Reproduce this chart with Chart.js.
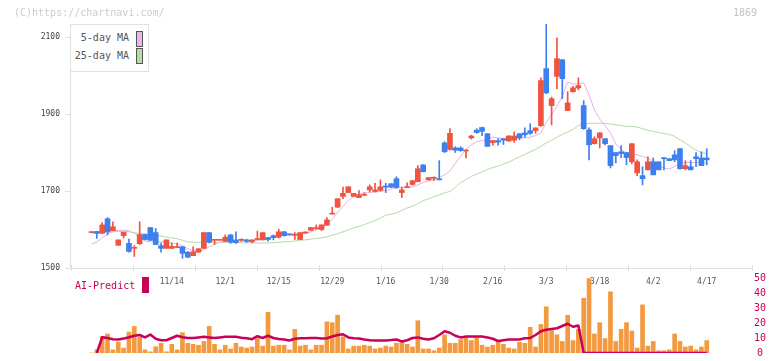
<!DOCTYPE html>
<html>
<head>
<meta charset="utf-8">
<script src="https://cdn.jsdelivr.net/npm/chart.js@4.4.0/dist/chart.umd.min.js"></script>
<style>
  body { margin: 0; background: #fff; }
  #wrap { position: relative; width: 772px; height: 361px; font-family: "DejaVu Sans Mono", monospace; }
  canvas { position: absolute; left: 0; top: 0; }
  .txt { position: absolute; white-space: pre; font-size: 10px; line-height: 12px; }
  .sw { position: absolute; width: 5px; height: 14px; border: 1px solid #555; }
</style>
</head>
<body>
<div id="wrap">
  <canvas id="priceChart" width="772" height="361"></canvas>
  <canvas id="volChart" width="772" height="361"></canvas>
  <div class="txt" style="left:14px; top:7px; color:#cccccc;">(C)https://chartnavi.com/</div>
  <div class="txt" style="left:733px; top:7px; color:#c4c4c4;">1869</div>
  <div style="position:absolute; left:70px; top:24px; width:77px; height:46px; border:1px solid #e0e0e0; background:#fff;"></div>
  <div class="txt" style="left:70px; width:59px; text-align:right; top:32px; color:#555;">5-day MA</div>
  <div class="txt" style="left:70px; width:59px; text-align:right; top:50px; color:#555;">25-day MA</div>
  <div class="sw" style="left:136px; top:31px; background:#e8b6ea;"></div>
  <div class="sw" style="left:136px; top:48px; background:#b6dcaa;"></div>
  <div class="txt" style="left:75px; top:280px; color:#c8005a;">AI-Predict</div>
  <div style="position:absolute; left:142px; top:277px; width:7px; height:16px; background:#c8005a;"></div>
</div>
<script>
// daily candles, oldest first (11/14 is index 15, then every 10 sessions)
const openP  = [1592,1595,1590,1628,1597,1559,1584,1564,1551,1563,1587,1605,1592,1558,1551,1551,1553,1555,1541,1532,
                1541,1551,1592,1572,1572,1569,1586,1573,1572,1573,1568,1574,1573,1579,1584,1580,1594,1588,1585,1574,
                1591,1598,1602,1600,1611,1640,1658,1686,1696,1686,1683,1689,1703,1699,1702,1713,1719,1732,1696,1709,
                1717,1724,1768,1729,1733,1731,1825,1808,1812,1812,1804,1838,1858,1865,1849,1826,1831,1836,1830,1832,
                1849,1851,1857,1857,1870,2018,1922,1998,2041,1909,1958,1968,1922,1859,1823,1838,1836,1818,1800,1802,
                1800,1776,1747,1740,1755,1776,1776,1786,1784,1794,1810,1758,1763,1789,1786,1786];
const highP  = [1594,1595,1618,1631,1620,1573,1593,1575,1558,1620,1588,1605,1603,1565,1573,1565,1565,1556,1543,1555,
                1551,1592,1592,1573,1573,1586,1587,1594,1576,1575,1573,1596,1592,1580,1586,1601,1595,1589,1592,1592,
                1594,1606,1612,1612,1631,1658,1680,1710,1711,1694,1701,1695,1716,1720,1729,1720,1719,1737,1710,1721,
                1727,1766,1768,1735,1737,1779,1828,1862,1815,1815,1808,1845,1862,1866,1849,1831,1836,1836,1844,1854,
                1849,1864,1875,1864,1994,2134,1944,2098,2042,1958,1972,1994,1935,1864,1841,1852,1836,1818,1800,1818,
                1800,1823,1781,1763,1789,1786,1776,1787,1784,1805,1810,1779,1779,1800,1802,1810];
const lowP   = [1592,1577,1590,1586,1597,1559,1578,1541,1530,1561,1573,1571,1561,1541,1551,1550,1553,1525,1527,1532,
                1541,1551,1565,1561,1572,1569,1564,1564,1569,1567,1566,1573,1573,1570,1573,1578,1583,1585,1574,1574,
                1590,1598,1601,1597,1611,1640,1657,1680,1696,1686,1683,1688,1697,1698,1700,1696,1709,1707,1683,1709,
                1715,1724,1750,1728,1727,1729,1800,1806,1800,1803,1786,1835,1850,1844,1816,1819,1819,1821,1829,1826,
                1833,1840,1847,1850,1868,1953,1872,1966,1940,1909,1957,1963,1860,1781,1822,1812,1820,1760,1773,1787,
                1768,1771,1740,1716,1755,1742,1755,1755,1779,1776,1757,1755,1755,1763,1766,1768];
const closeP = [1593,1590,1612,1594,1607,1573,1593,1543,1552,1587,1574,1572,1561,1551,1573,1556,1554,1538,1528,1542,
                1550,1592,1567,1573,1573,1580,1567,1566,1573,1569,1573,1575,1592,1574,1579,1594,1584,1586,1586,1592,
                1592,1605,1605,1612,1625,1641,1680,1694,1711,1694,1690,1690,1711,1703,1711,1710,1710,1709,1703,1710,
                1727,1758,1750,1735,1734,1729,1802,1850,1806,1805,1806,1843,1852,1855,1816,1831,1827,1832,1843,1843,
                1838,1846,1850,1864,1987,1955,1940,2044,1992,1929,1968,1974,1862,1820,1836,1851,1823,1766,1792,1797,
                1787,1823,1776,1732,1776,1742,1755,1784,1779,1781,1758,1766,1755,1784,1766,1781];
const ma5    = [1562,1568,1578,1588,1596,1598,1598,1597,1590,1580,1570,1568,1568,1568,1566,1565,1563,1558,1550,1545,
                1542,1548,1555,1562,1566,1568,1570,1570,1571,1571,1571,1572,1574,1576,1580,1584,1586,1587,1588,1589,
                1590,1594,1599,1606,1614,1626,1645,1660,1675,1686,1692,1696,1697,1697,1699,1702,1705,1708,1710,1710,
                1711,1716,1722,1726,1730,1734,1742,1752,1772,1790,1808,1820,1828,1831,1834,1840,1838,1836,1836,1837,
                1838,1838,1840,1844,1851,1878,1900,1920,1946,1983,1978,1978,1981,1950,1911,1887,1870,1851,1822,1808,
                1799,1797,1794,1790,1785,1777,1765,1760,1757,1764,1772,1774,1774,1774,1774,1772];
const ma25   = [1590,1591,1592,1593,1594,1595,1595,1594,1592,1590,1588,1587,1585,1583,1580,1578,1576,1572,1568,1567,
                1567,1567,1567,1567,1567,1567,1567,1566,1566,1565,1565,1565,1565,1565,1566,1567,1568,1569,1570,1572,
                1573,1575,1577,1578,1581,1585,1589,1594,1599,1604,1608,1613,1618,1623,1630,1637,1640,1643,1650,1656,
                1661,1667,1675,1680,1685,1690,1695,1699,1710,1722,1730,1738,1744,1750,1756,1761,1765,1770,1775,1782,
                1789,1795,1802,1808,1816,1825,1832,1840,1847,1853,1860,1870,1875,1876,1876,1876,1876,1874,1872,1870,
                1868,1868,1866,1862,1858,1855,1852,1849,1847,1842,1833,1825,1815,1806,1800,1797];
const volume = [0,2.1,11,12.7,2.1,7.3,3.3,14,17.7,10.4,2.1,0.8,4.2,6.5,0.8,5.8,2.1,13.5,6.5,5.8,
                5.2,7.7,17.7,5.8,2.1,5.2,2.7,6.5,4,3.3,4,9.6,4.6,27.1,4.6,5.2,5.2,2.1,15.8,4.6,
                5.2,2.1,5.2,5.2,20.8,20.2,25.2,10.8,2.7,4.6,4.6,5.2,4.6,2.7,3.3,4.6,4,6.5,7.7,5.8,
                4,21.5,2.7,2.7,1.5,3.3,12.1,6.5,6.5,9,10.2,8.3,10.2,5.2,4,5.2,7.7,5.8,3.3,2.7,
                7.1,6.5,17.1,4,19,30.8,15,12.1,7.7,25.2,8.3,15.8,36.5,49.6,12.7,20.2,9.6,40.8,7.7,15.8,
                20.2,14.6,3.3,32.1,4.6,7.7,1.5,1.5,2.1,12.7,7.7,4,4.6,2.1,4,8.3];
const aiPredict = [null,0,10.5,10,9.2,9,9.6,10.5,11.5,12,10.4,12.3,9.5,8.5,8.5,10,11.5,10.5,10,10,
                10.4,10.8,10.4,10,10.4,10.8,10.8,10.8,10.2,9.8,9.2,11.2,10,11.5,10,9.4,9,8.3,9.5,9.8,
                9.8,10,10,9.6,9.8,11,12,12.5,10.4,9.8,9.6,9,8.5,8.3,8.3,8.3,8.6,9,7.7,8.5,
                10,10.4,9.5,9,9.8,12,14.5,13.5,11.5,10.4,11,11,11,11,10.4,9.5,8,8.5,9,9,
                9,9.8,10,12,14.5,15.5,16,16.5,18,19.5,17.5,18.3,0,0,0,0,0,0,0,0,
                0,0,0,0,0,0,0,0,0,0,0,0,0,0,0,0];
const dateLabels = ["11/14","12/1","12/15","12/29","1/16","1/30","2/16","3/3","3/18","4/2","4/17"];
const dateIndex  = [15,25,35,45,55,65,75,85,95,105,115];
const priceTicks = [1500,1700,1900,2100];
const volTicks   = [0,10,20,30,40,50];

const RED = "#ef5440", BLUE = "#3e7ff0", CRIMSON = "#c8005a", ORANGE = "#f39a40";
const X_MIN = -4.02, X_MAX = 123.46;

Chart.defaults.font.family = '"DejaVu Sans Mono", monospace';
Chart.defaults.animation = false;

const idx = openP.map((_, i) => i);
const candleColor = idx.map(i => closeP[i] >= openP[i] ? RED : BLUE);

// little tick marks that sit on the bottom axis line at even spacing
const axisMarks = {
  id: "axisMarks",
  afterDraw(chart) {
    const {ctx, chartArea} = chart;
    const w = chartArea.right - chartArea.left - 1;
    ctx.save();
    ctx.strokeStyle = "#e0e0e0";
    ctx.lineWidth = 1;
    for (let k = 0; k <= 11; k++) {
      const x = Math.round(chartArea.left + 1 + k * w / 11) + 0.5;
      ctx.beginPath();
      ctx.moveTo(x, chartArea.bottom - 3);
      ctx.lineTo(x, chartArea.bottom + 3);
      ctx.stroke();
    }
    ctx.restore();
  }
};

new Chart(document.getElementById("priceChart"), {
  type: "bar",
  data: {
    datasets: [
      {
        label: "body",
        data: idx.map(i => ({x: i, y: [openP[i], closeP[i]]})),
        backgroundColor: candleColor,
        barThickness: 5,
        minBarLength: 1,
        grouped: false
      },
      {
        label: "wick",
        data: idx.map(i => ({x: i, y: [lowP[i], highP[i]]})),
        backgroundColor: candleColor,
        barThickness: 1,
        grouped: false
      },
      {
        type: "line",
        label: "5-day MA",
        data: idx.map(i => ({x: i, y: ma5[i]})),
        borderColor: "#e6b0ea",
        borderWidth: 1,
        pointRadius: 0
      },
      {
        type: "line",
        label: "25-day MA",
        data: idx.map(i => ({x: i, y: ma25[i]})),
        borderColor: "#b4d9a6",
        borderWidth: 1,
        pointRadius: 0
      }
    ]
  },
  options: {
    responsive: false,
    layout: {padding: {left: 0, top: 24, right: 20, bottom: 0}},
    plugins: {legend: {display: false}, tooltip: {enabled: false}},
    scales: {
      x: {
        type: "linear",
        min: X_MIN,
        max: X_MAX,
        offset: false,
        afterBuildTicks: s => { s.ticks = dateIndex.map(v => ({value: v})); },
        afterFit: s => { s.height = 93; },
        grid: {display: false, drawTicks: false},
        border: {color: "#e0e0e0"},
        ticks: {
          autoSkip: false,
          maxRotation: 0,
          padding: 9,
          color: "#555",
          font: {size: 8},
          callback: (v, k) => dateLabels[k]
        }
      },
      y: {
        position: "left",
        min: 1500,
        max: 2134,
        afterBuildTicks: s => { s.ticks = priceTicks.map(v => ({value: v})); },
        afterFit: s => { s.width = 70; },
        grid: {drawOnChartArea: false, drawTicks: true, tickLength: 5, color: "#e0e0e0"},
        border: {color: "#e0e0e0"},
        ticks: {padding: 5, color: "#444", font: {size: 8}, callback: v => String(v)}
      }
    }
  },
  plugins: [axisMarks]
});

new Chart(document.getElementById("volChart"), {
  type: "bar",
  data: {
    datasets: [
      {
        type: "line",
        label: "AI-Predict",
        data: idx.map(i => ({x: i, y: aiPredict[i]})),
        borderColor: CRIMSON,
        borderWidth: 2.5,
        borderJoinStyle: "round",
        pointRadius: 0
      },
      {
        label: "volume",
        data: idx.map(i => ({x: i, y: volume[i]})),
        backgroundColor: ORANGE,
        barThickness: 4,
        grouped: false
      }
    ]
  },
  options: {
    responsive: false,
    layout: {padding: {left: 70, top: 278, right: 3, bottom: 3}},
    plugins: {legend: {display: false}, tooltip: {enabled: false}},
    scales: {
      x: {type: "linear", min: X_MIN, max: X_MAX, offset: false, display: false},
      y: {
        position: "right",
        min: 0,
        max: 50,
        afterBuildTicks: s => { s.ticks = volTicks.map(v => ({value: v})); },
        afterFit: s => { s.width = 17; },
        grid: {display: false, drawTicks: false},
        border: {display: false},
        ticks: {padding: 2, crossAlign: "center", color: CRIMSON, font: {size: 10}}
      }
    }
  }
});
</script>
</body>
</html>
